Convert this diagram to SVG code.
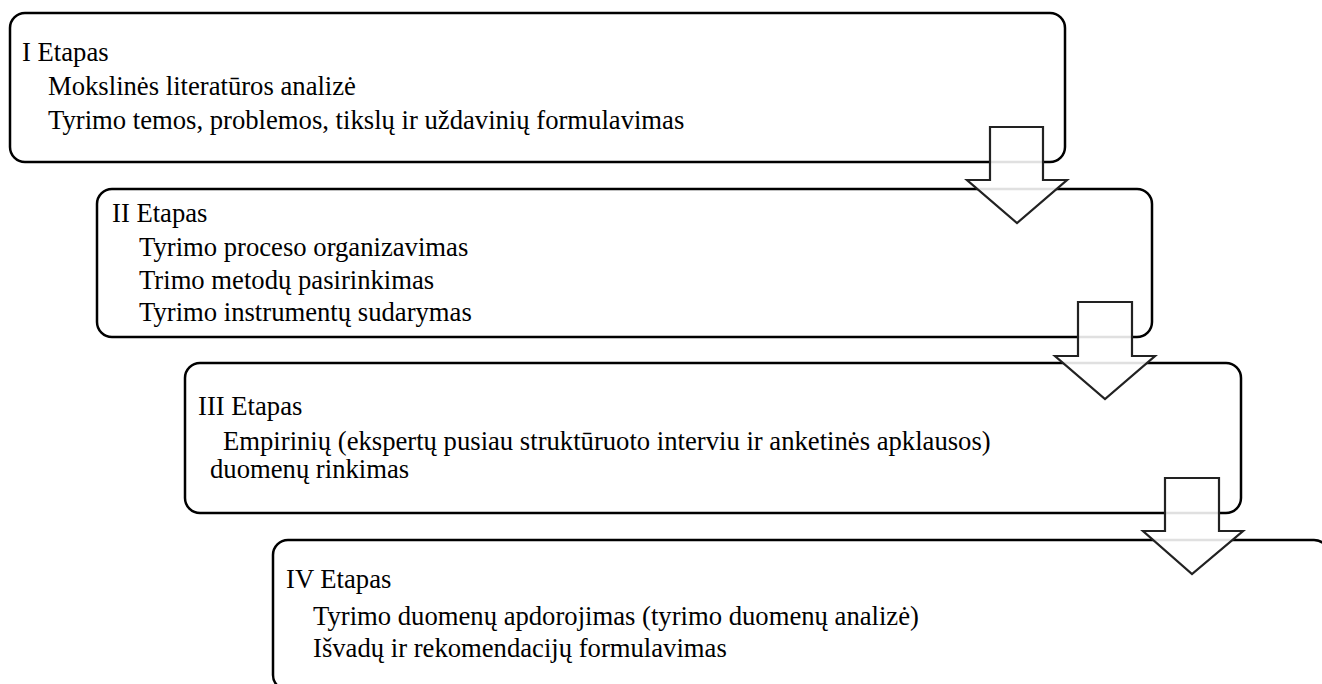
<svg xmlns="http://www.w3.org/2000/svg" width="1322" height="684" viewBox="0 0 1322 684">
<style>
.box{fill:#ffffff;stroke:#000000;stroke-width:2.5}
text{font-family:'Liberation Serif','Times New Roman',serif;font-size:26.67px;fill:#000000}
.arr{fill:#ffffff;fill-opacity:0.88;stroke:#222222;stroke-width:2.2;stroke-linejoin:miter}
</style>
<rect width="1322" height="684" fill="#ffffff"/>
<g id="stage1">
<rect class="box" x="10" y="13" width="1055" height="149" rx="15" ry="15"/>
<text x="22" y="61">I Etapas</text>
<text x="48" y="95">Mokslinės literatūros analizė</text>
<text x="48" y="129">Tyrimo temos, problemos, tikslų ir uždavinių formulavimas</text>
</g>
<g id="stage2">
<rect class="box" x="97" y="189" width="1055" height="148" rx="15" ry="15"/>
<text x="112" y="222">II Etapas</text>
<text x="139" y="256">Tyrimo proceso organizavimas</text>
<text x="139" y="289">Trimo metodų pasirinkimas</text>
<text x="139" y="321">Tyrimo instrumentų sudarymas</text>
</g>
<g id="stage3">
<rect class="box" x="185" y="363" width="1056" height="150" rx="15" ry="15"/>
<text x="198" y="415">III Etapas</text>
<text x="223" y="450">Empirinių (ekspertų pusiau struktūruoto interviu ir anketinės apklausos)</text>
<text x="210" y="478">duomenų rinkimas</text>
</g>
<g id="stage4">
<rect class="box" x="273" y="540" width="1056" height="150" rx="15" ry="15"/>
<text x="286" y="588">IV Etapas</text>
<text x="313" y="625">Tyrimo duomenų apdorojimas (tyrimo duomenų analizė)</text>
<text x="313" y="657">Išvadų ir rekomendacijų formulavimas</text>
</g>
<g id="connectors">
<polygon class="arr" points="990,127 1043,127 1043,180 1067,180 1017,223 967,180 990,180"/>
<polygon class="arr" points="1078,302 1132,302 1132,356 1155,356 1105,399 1055,356 1078,356"/>
<polygon class="arr" points="1165,478 1219,478 1219,531 1243,531 1192,574 1143,531 1165,531"/>
</g>
</svg>
